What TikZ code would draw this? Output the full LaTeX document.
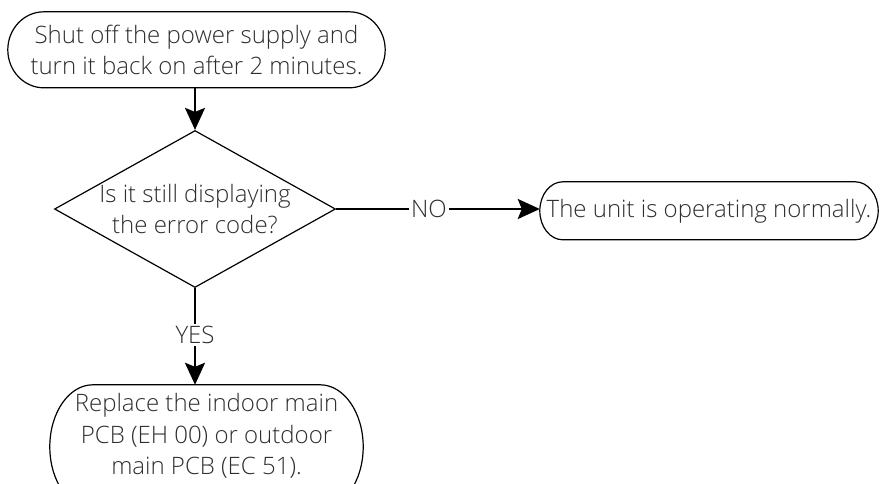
\documentclass[tikz,border=0pt]{standalone}
\usepackage{fontspec}
\setmainfont{Open Sans}[UprightFont={* Light}]
\usetikzlibrary{shapes.geometric,arrows.meta}
\tikzset{
  term/.style={align=center, inner sep=0pt, text=black!82},
  border/.style={draw=black, line width=1.2pt},
  dec/.style={border, diamond, align=center, inner sep=0pt, text=black!82},
  lbl/.style={fill=white, inner sep=2pt, text=black!82},
  conn/.style={line width=2.4pt, draw=black},
  arr/.style={conn, -{Stealth[length=22pt,width=20pt,inset=4pt]}},
}
\newcommand\mystadium[3]{\draw[border] ([xshift=#2]#1.north west) -- ([xshift=-#2]#1.north east)
  arc[start angle=90,end angle=-90,x radius=#2,y radius=#3]
  -- ([xshift=#2,yshift=-2*#3]#1.north west)
  arc[start angle=270,end angle=90,x radius=#2,y radius=#3] -- cycle;}
\begin{document}
\begin{tikzpicture}[x=1pt,y=-1pt, font=\fontsize{24}{31.5}\selectfont]
\useasboundingbox (0,0) rectangle (884,483);
\node[term, minimum width=377pt, minimum height=76pt] (start) at (196.5,50)
  {Shut off the power supply and\\turn it back on after 2 minutes.};
\node[dec, minimum width=281pt, minimum height=157pt, shape aspect=1.79] (q) at (195,209)
  {Is it still displaying\\the error code?};
\node[term, minimum width=338pt, minimum height=58pt] (ok) at (709,211)
  {The unit is operating normally.};
\node[term, minimum width=313pt, minimum height=102pt] (rep) at (206.5,436)
  {Replace the indoor main\\PCB (EH 00) or outdoor\\main PCB (EC 51).};
\mystadium{start}{36pt}{38pt}
\mystadium{ok}{23pt}{29pt}
\mystadium{rep}{43pt}{62pt}
\node[lbl] (no) at (429,209) {NO};
\node[lbl] (yes) at (195,335) {YES};
\draw[arr] (start.south -| q.north) -- (q.north);
\draw[conn] (q.east) -- (no.west);
\draw[arr] (no.east) -- (ok.west |- no.east);
\draw[conn] (q.south) -- (yes.north);
\draw[arr] (yes.south) -- (yes.south |- rep.north);
\end{tikzpicture}
\end{document}
